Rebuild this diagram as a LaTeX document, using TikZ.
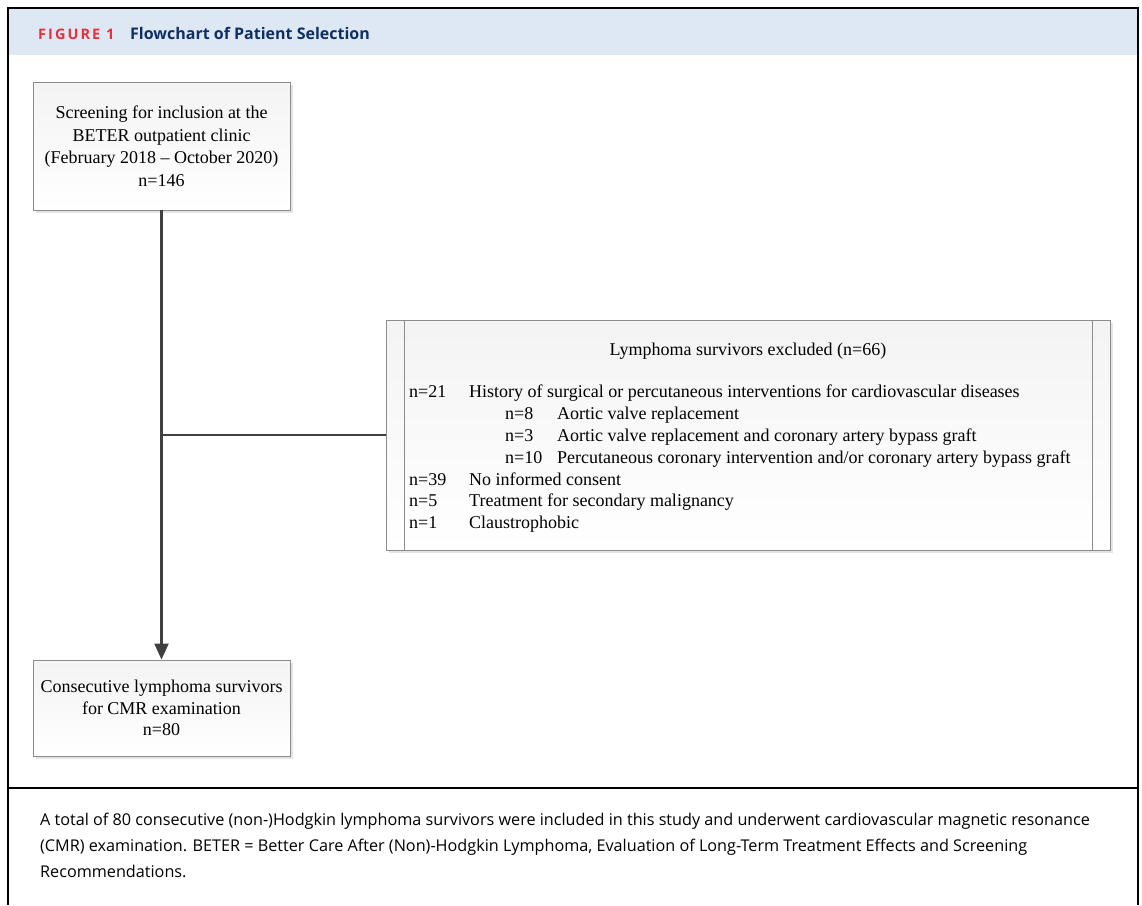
\documentclass[tikz,border=0pt]{standalone}
\usepackage{fontspec}
\setmainfont{Liberation Serif}
\newfontfamily\capfont{Open Sans}
\usetikzlibrary{arrows.meta,shadows}
\definecolor{hdrbg}{HTML}{DDE8F4}
\definecolor{hdrred}{HTML}{E8303A}
\definecolor{hdrblue}{HTML}{0F2F63}
\definecolor{linegray}{HTML}{404040}
\definecolor{boxedge}{HTML}{8C8C8C}
\tikzset{
  flowbox/.style={draw=boxedge, line width=0.9pt, top color=gray!9, bottom color=white,
    drop shadow={shadow xshift=3pt, shadow yshift=-3pt, fill=gray!35, opacity=0.6},
    inner sep=0pt, align=center, font=\fontsize{18}{22.5}\selectfont},
  conn/.style={draw=linegray, line width=2.2pt},
  itemtxt/.style={anchor=base west, inner sep=0pt, font=\fontsize{18}{20}\selectfont},
  captxt/.style={anchor=base west, inner sep=0pt, font=\capfont\fontsize{16.2}{20}\selectfont}
}
\begin{document}
\begin{tikzpicture}[x=1pt,y=-1pt]
\useasboundingbox (0,0) rectangle (1142,905);
\fill[white] (0,0) rectangle (1142,905);
% header
\fill[hdrbg] (8,8) rectangle (1138,55);
\node[anchor=base west, inner sep=0pt, font=\capfont\bfseries\fontsize{14.5}{16}\selectfont, text=hdrred] (fig) at (38,39) {\addfontfeature{LetterSpace=14}FIGURE 1};
\node[anchor=base west, inner sep=0pt, font=\capfont\bfseries\fontsize{16}{18}\selectfont, text=hdrblue] (ttl) at (130,39) {Flowchart of Patient Selection};
% frame
\draw[black, line width=2pt] (8,905) -- (8,8) -- (1138,8) -- (1138,905);
\draw[black, line width=1.6pt] (8,788) -- (1138,788);
% boxes
\node[flowbox, minimum width=257pt, minimum height=128pt] (screen) at (161.5,146)
  {Screening for inclusion at the\\BETER outpatient clinic\\(February 2018 -- October 2020)\\n=146};
\node[flowbox, minimum width=257pt, minimum height=96pt, font=\fontsize{18}{21.5}\selectfont] (cons) at (161.5,708)
  {Consecutive lymphoma survivors\\for CMR examination\\n=80};
\node[flowbox, minimum width=724pt, minimum height=230pt] (excl) at (748,435) {};
\draw[boxedge, line width=0.9pt] ([xshift=19pt]excl.north west) -- ([xshift=19pt]excl.south west);
\draw[boxedge, line width=0.9pt] ([xshift=-18pt]excl.north east) -- ([xshift=-18pt]excl.south east);
% excluded text
\node[anchor=base, inner sep=0pt, font=\fontsize{18}{20}\selectfont] (t0) at (748,355) {Lymphoma survivors excluded (n=66)};
\node[itemtxt] (a1) at (409,397) {n=21};
\node[itemtxt] (b1) at (469,397) {History of surgical or percutaneous interventions for cardiovascular diseases};
\node[itemtxt] (a2) at (505,419) {n=8};
\node[itemtxt] (b2) at (557,419) {Aortic valve replacement};
\node[itemtxt] (a3) at (505,441) {n=3};
\node[itemtxt] (b3) at (557,441) {Aortic valve replacement and coronary artery bypass graft};
\node[itemtxt] (a4) at (505,463) {n=10};
\node[itemtxt] (b4) at (557,463) {Percutaneous coronary intervention and/or coronary artery bypass graft};
\node[itemtxt] (a5) at (409,485) {n=39};
\node[itemtxt] (b5) at (469,485) {No informed consent};
\node[itemtxt] (a6) at (409,506) {n=5};
\node[itemtxt] (b6) at (469,506) {Treatment for secondary malignancy};
\node[itemtxt] (a7) at (409,528) {n=1};
\node[itemtxt] (b7) at (469,528) {Claustrophobic};
% connectors
\coordinate (junc) at (screen.south |- excl.west);
\draw[conn, -{Triangle[length=16pt,width=14pt]}] (screen.south) -- (cons.north);
\draw[conn] (junc) -- (excl.west);
% caption
\node[captxt] (c1) at (40,825) {A total of 80 consecutive (non-)Hodgkin lymphoma survivors were included in this study and underwent cardiovascular magnetic resonance};
\node[captxt] (c2) at (40,851) {(CMR) examination. BETER = Better Care After (Non)-Hodgkin Lymphoma, Evaluation of Long-Term Treatment Effects and Screening};
\node[captxt] (c3) at (40,877) {Recommendations.};
\end{tikzpicture}
\end{document}
